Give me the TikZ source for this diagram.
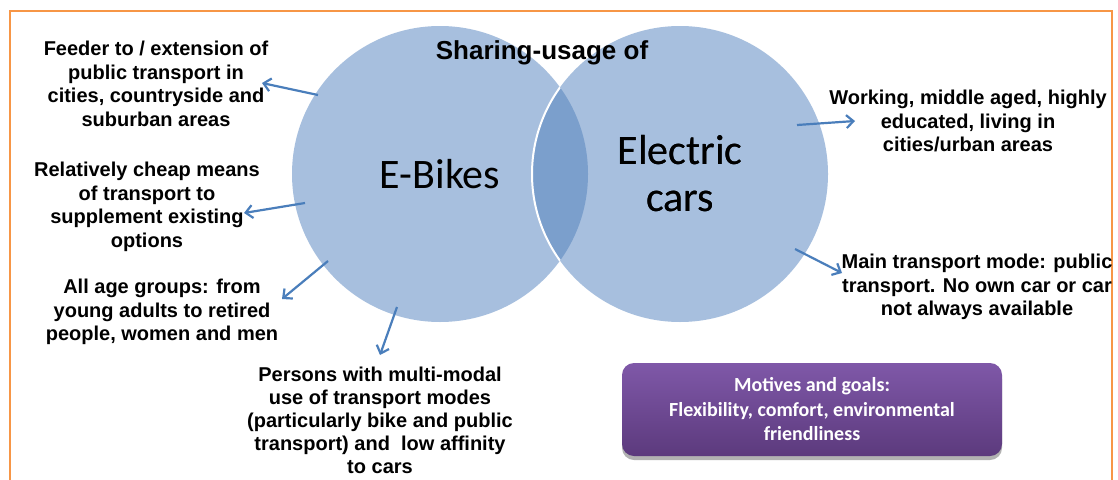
\documentclass[tikz,border=0pt]{standalone}
\usepackage{fontspec}
\setmainfont{Liberation Sans}
\newfontfamily\carl{Carlito}
\usetikzlibrary{arrows.meta,shadows}
\definecolor{framebrd}{HTML}{F79646}
\definecolor{circblue}{HTML}{A7BFDE}
\definecolor{lensblue}{HTML}{7B9FCC}
\definecolor{arrowblue}{HTML}{4A7EBB}
\definecolor{purptop}{HTML}{7F58A8}
\definecolor{purpbot}{HTML}{5C3A7D}
\begin{document}
\begin{tikzpicture}[x=1pt,y=-1pt,
  lbl/.style={font=\fontsize{20}{23.5}\selectfont\bfseries, align=center, inner sep=0pt, text=black},
  venn/.style={circle, fill=circblue, minimum size=296pt, inner sep=0pt, font=\carl\fontsize{42}{47}\selectfont, align=center},
  conn/.style={draw=arrowblue, line width=2.2pt, -{Straight Barb[length=7pt,width=13pt,line width=2.2pt]}},
  goalbox/.style={rounded corners=12pt, minimum width=380pt, minimum height=93pt, top color=purptop, bottom color=purpbot, text=white, align=center, font=\carl\bfseries\fontsize{20}{24.5}\selectfont, drop shadow={shadow xshift=0pt, shadow yshift=-4pt, opacity=0.3, fill=black}}
]
\useasboundingbox (0,0) rectangle (1118,479);
\fill[white] (0,0) rectangle (1118,479);
\begin{scope}
  \clip (0,0) rectangle (1118,479);
  \draw[framebrd, line width=2.5pt] (10,495) |- (1112,11) -- (1112,495);
\end{scope}
% Venn circles
\node[venn] (eb) at (440,174) {E-Bikes};
\node[venn] (ec) at (680,174) {Electric\\cars};
\begin{scope}
  \clip (440,174) circle[radius=148pt];
  \fill[lensblue] (680,174) circle[radius=148pt];
  \draw[white, line width=2pt] (680,174) circle[radius=148pt];
\end{scope}
\node[venn, fill=none] at (680,174) {Electric\\cars};
% title
\node[lbl, font=\fontsize{26}{30}\selectfont\bfseries] (title) at (542,53) {Sharing-usage of};
% labels
\node[lbl] (t1) at (156,84) {Feeder to / extension of\\public transport in\\cities, countryside and\\suburban areas};
\node[lbl] (t2) at (147,207) {Relatively cheap means\\of transport to\\supplement existing\\options};
\node[lbl] (t3) at (162,312) {All age groups: from\\young adults to retired\\people, women and men};
\node[lbl, font=\fontsize{20}{23}\selectfont\bfseries] (t4) at (380,420) {Persons with multi-modal\\use of transport modes\\(particularly bike and public\\transport) and\ \ low affinity\\to cars};
\node[lbl] (t5) at (968,121) {Working, middle aged, highly\\educated, living in\\cities/urban areas};
\node[lbl] (t6) at (977,287) {Main transport mode: public\\transport. No own car or car\\not always available};
% motives box
\node[goalbox] (mg) at (812,409.5) {Motives and goals:\\Flexibility, comfort, environmental\\friendliness};
% arrows
\coordinate (s1) at (318,95);  \coordinate (e1) at (262,83);
\coordinate (s2) at (305,203); \coordinate (e2) at (244,213);
\coordinate (s3) at (328,261); \coordinate (e3) at (282,299);
\coordinate (s4) at (397,307); \coordinate (e4) at (380,355);
\coordinate (s5) at (797,125); \coordinate (e5) at (855,121);
\coordinate (s6) at (795,249); \coordinate (e6) at (842,273);
\foreach \i in {1,...,6} {\draw[conn] (s\i) -- (e\i);}
\end{tikzpicture}
\end{document}
